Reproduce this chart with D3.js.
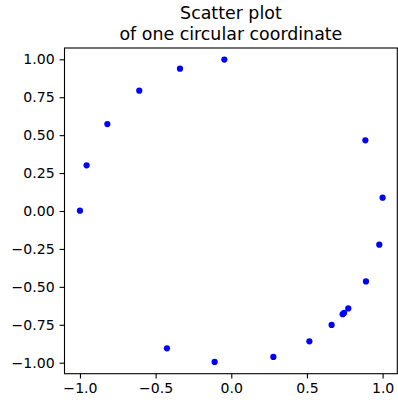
<!DOCTYPE html>
<html>
<head>
<meta charset="utf-8">
<script src="https://cdn.jsdelivr.net/npm/d3@7"></script>
<style>
  html, body { margin: 0; padding: 0; background: #fff; }
  svg { display: block; font-family: "DejaVu Sans", sans-serif; }
</style>
</head>
<body>
<script>
const titleLines = ["Scatter plot", "of one circular coordinate"];
const xValues = [-0.046, -0.339, -0.608, -0.819, -0.956, -1.000, 0.886, 1.000, 0.978, 0.890, 0.773, 0.736, 0.745, 0.663, 0.516, -0.425, -0.110, 0.278];
const yValues = [0.998, 0.938, 0.793, 0.573, 0.301, 0.002, 0.466, 0.088, -0.222, -0.464, -0.642, -0.680, -0.672, -0.751, -0.859, -0.905, -0.995, -0.962];
const xTicks = [-1.0, -0.5, 0.0, 0.5, 1.0];
const yTicks = [-1.0, -0.75, -0.5, -0.25, 0.0, 0.25, 0.5, 0.75, 1.0];

const W = 398, H = 405;
const mLeft = 64.5, mRight = 397.3, mTop = 48, mBottom = 373.7;

const svg = d3.select("body").append("svg").attr("width", W).attr("height", H);

const x = d3.scaleLinear().domain([-1.102, 1.097]).range([mLeft, mRight]);
const y = d3.scaleLinear().domain([-1.0725, 1.0745]).range([mBottom, mTop]);

// points
svg.append("g").selectAll("circle")
  .data(xValues.map((v, i) => [v, yValues[i]]))
  .join("circle")
  .attr("cx", d => x(d[0]))
  .attr("cy", d => y(d[1]))
  .attr("r", 3.1)
  .attr("fill", "#0000ff");

const tickLen = 4.9, tickPad = 4.9;

const xAxis = svg.append("g")
  .attr("transform", `translate(0,${mBottom})`)
  .call(d3.axisBottom(x).tickValues(xTicks).tickFormat(d3.format(".1f")).tickSize(tickLen).tickPadding(tickPad));
const yAxis = svg.append("g")
  .attr("transform", `translate(${mLeft},0)`)
  .call(d3.axisLeft(y).tickValues(yTicks).tickFormat(d3.format(".2f")).tickSize(tickLen).tickPadding(tickPad));

[xAxis, yAxis].forEach(a => {
  a.attr("font-family", "DejaVu Sans, sans-serif").attr("font-size", 14.1);
  a.select(".domain").remove();
  a.selectAll(".tick line").attr("stroke", "#000").attr("stroke-width", 1.1);
  a.selectAll(".tick text").attr("fill", "#000");
});

// spines
svg.append("rect")
  .attr("x", mLeft).attr("y", mTop)
  .attr("width", mRight - mLeft).attr("height", mBottom - mTop)
  .attr("fill", "none").attr("stroke", "#000").attr("stroke-width", 1.1);

// title (one text, two lines)
const cx = (mLeft + mRight) / 2;
const title = svg.append("text")
  .attr("x", cx).attr("y", 19.2)
  .attr("text-anchor", "middle")
  .attr("font-size", 17.4);
title.selectAll("tspan")
  .data(titleLines)
  .join("tspan")
  .attr("x", cx)
  .attr("dy", (d, i) => i === 0 ? 0 : 20.3)
  .text(d => d);
</script>
</body>
</html>
